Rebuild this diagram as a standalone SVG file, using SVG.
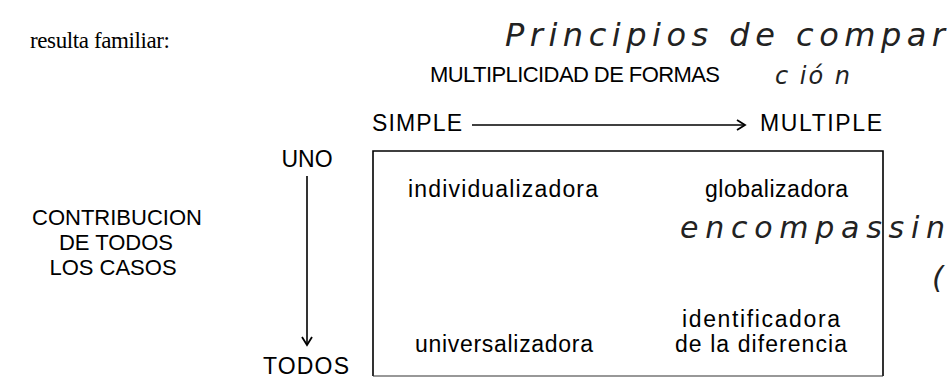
<svg xmlns="http://www.w3.org/2000/svg" width="947" height="378" viewBox="0 0 947 378">
<style>
.serif{font-family:"Liberation Serif","Times New Roman",serif;font-size:23px;fill:#000}
.sans{font-family:"Liberation Sans",Arial,sans-serif;font-size:22px;fill:#000}
.lab{font-family:"Liberation Sans",Arial,sans-serif;font-size:23px;fill:#000}
.hand{font-family:"DejaVu Sans","Liberation Sans",sans-serif;font-style:italic;font-weight:200;fill:#222}
.ln{stroke:#000;stroke-width:1.6;fill:none}
</style>
<defs>
<marker id="ah" markerWidth="12" markerHeight="12" refX="10" refY="6" orient="auto" markerUnits="userSpaceOnUse">
<path d="M2,1 L10,6 L2,11" fill="none" stroke="#000" stroke-width="1.8"/>
</marker>
</defs>
<rect width="947" height="378" fill="#fff"/>
<g id="page-text">
<text class="serif" x="30" y="48" textLength="140">resulta familiar:</text>
<text class="hand" x="505" y="46" font-size="32" textLength="440">Principios de compar</text>
<text class="hand" x="775" y="84" font-size="24" textLength="75">c ió n</text>
</g>
<g id="title">
<text class="sans" x="430" y="82" font-size="21" textLength="290">MULTIPLICIDAD DE FORMAS</text>
</g>
<g id="axis-simple">
<text class="lab" x="372" y="131" textLength="90">SIMPLE</text>
</g>
<g id="axis-multiple">
<text class="lab" x="760" y="131" textLength="122">MULTIPLE</text>
</g>
<g id="axis-uno">
<text class="lab" x="307" y="167" text-anchor="middle">UNO</text>
</g>
<g id="axis-todos">
<text class="lab" x="306" y="374" text-anchor="middle" textLength="86">TODOS</text>
</g>
<g id="axis-title">
<text class="sans" x="117" y="225" text-anchor="middle">CONTRIBUCION</text>
<text class="sans" x="116" y="250" text-anchor="middle">DE TODOS</text>
<text class="sans" x="113" y="275" text-anchor="middle">LOS CASOS</text>
</g>
<g id="matrix">
<path class="ln" d="M373,376 V151 H883 V376"/>
<path d="M373,376 H883" stroke="#333" stroke-width="1.1" fill="none"/>
</g>
<g id="cell-individualizadora">
<text class="lab" x="408" y="197" textLength="190">individualizadora</text>
</g>
<g id="cell-globalizadora">
<text class="lab" x="705" y="197" textLength="143">globalizadora</text>
<text class="hand" x="680" y="238" font-size="30" textLength="265">encompassin</text>
<text class="hand" x="932" y="288" font-size="30">(</text>
</g>
<g id="cell-universalizadora">
<text class="lab" x="415" y="352" textLength="178">universalizadora</text>
</g>
<g id="cell-identificadora">
<text class="lab" x="761" y="327" text-anchor="middle" textLength="158">identificadora</text>
<text class="lab" x="675" y="352" textLength="172">de la diferencia</text>
</g>
<g id="connectors">
<line class="ln" x1="472" y1="125" x2="745" y2="125" marker-end="url(#ah)"/>
<line class="ln" x1="307" y1="176" x2="307" y2="345" marker-end="url(#ah)"/>
</g>
</svg>
